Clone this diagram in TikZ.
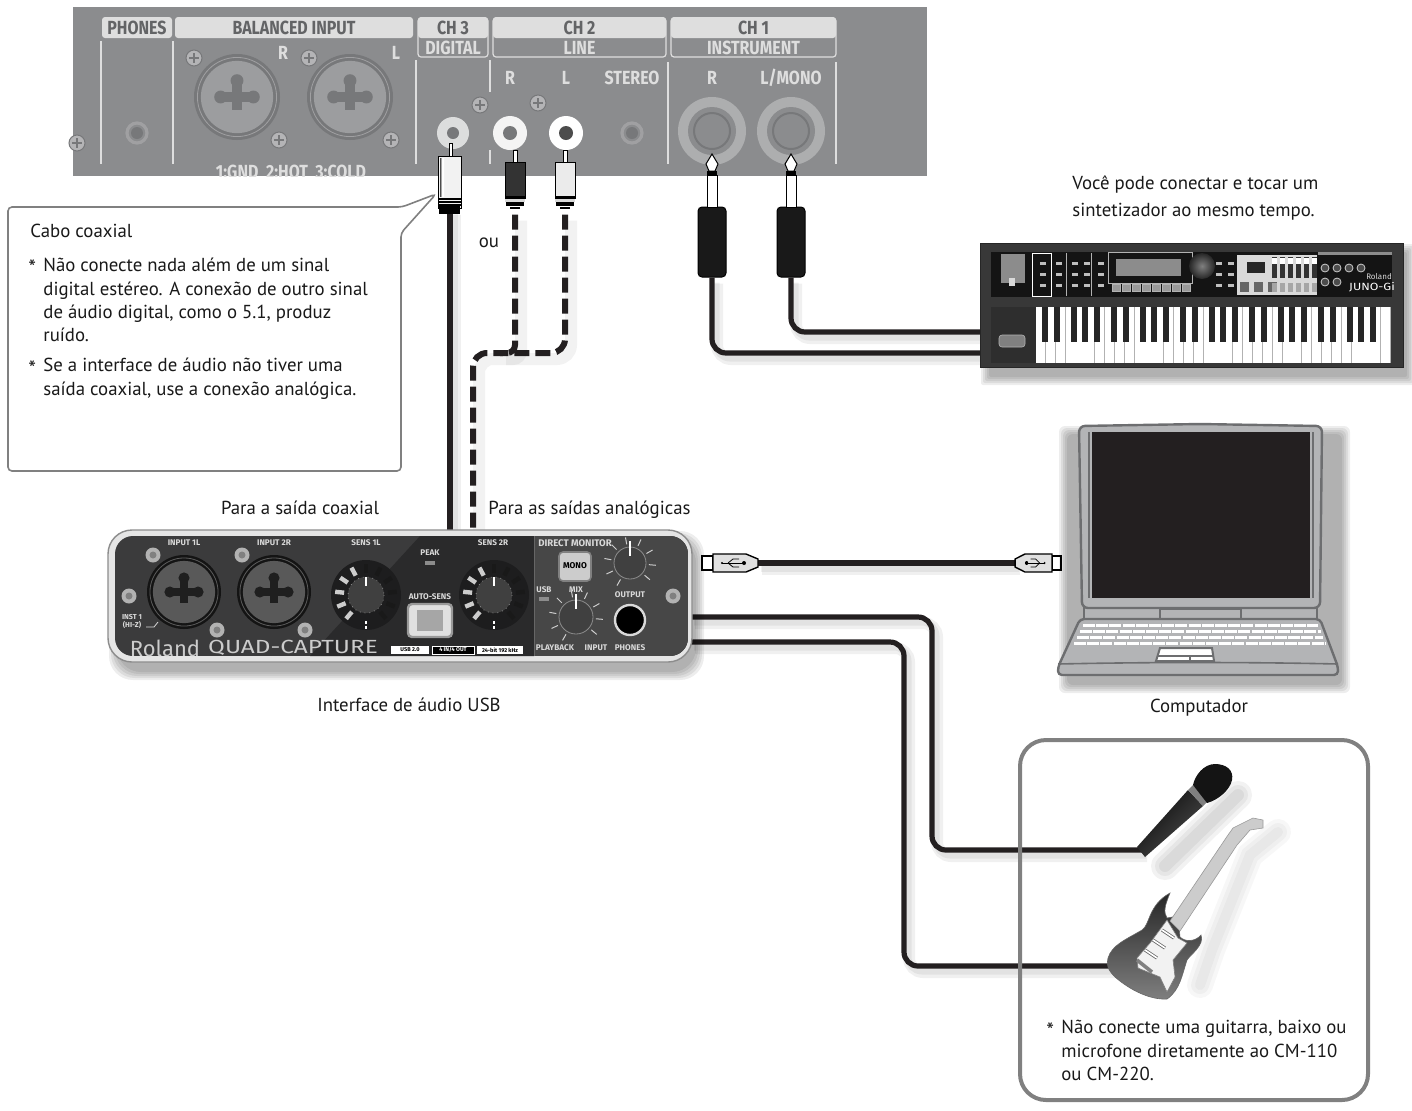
\documentclass[tikz,border=0pt]{standalone}
\usepackage{fontspec}
\setmainfont{PT Sans}
\newfontfamily\panelfont{Fira Sans}
\usetikzlibrary{calc}
\definecolor{panelgray}{HTML}{8B8C8E}
\definecolor{panellight}{HTML}{DEDEDE}
\definecolor{paneltext}{HTML}{636466}
\definecolor{holegray}{HTML}{77787A}
\definecolor{frontdark}{HTML}{2A2A2B}
\definecolor{frontmid}{HTML}{3B3B3C}
\definecolor{lapgray}{HTML}{B3B4B6}
\definecolor{lapline}{HTML}{6D6E70}
\definecolor{cablecol}{HTML}{231F20}
\newcommand{\subpanellabel}[1]{\scalebox{.84}[1]{\panelfont\bfseries #1}}
\newcommand{\frontlabel}[1]{{\panelfont\bfseries #1}}
\tikzset{
  bodytext/.style={inner sep=0pt, align=left, font=\fontsize{9.4}{11.6}\selectfont, text=black!90},
  startext/.style={inner sep=0pt, font=\fontsize{11}{12}\selectfont, text=black!90},
  panelhead/.style={fill=panellight, rounded corners=1.5pt, inner sep=0pt, minimum height=10.5pt, text=paneltext, font=\fontsize{9.5}{10}\selectfont},
  panelsub/.style={draw=panellight, line width=.6pt, rounded corners=1.5pt, inner sep=0pt, minimum height=19.5pt},
  paneltag/.style={inner sep=0pt, text=panellight, font=\fontsize{9.5}{10}\selectfont},
  divider/.style={panellight, line width=.7pt},
  cable/.style={draw=cablecol, line width=2.6pt, rounded corners=7pt,
    preaction={draw=black, opacity=.06, line width=6pt, transform canvas={shift={(2.5pt,-3pt)}}},
    preaction={draw=black, opacity=.06, line width=3.5pt, transform canvas={shift={(2pt,-2.5pt)}}}},
  dashcable/.style={draw=cablecol, line width=3pt, rounded corners=7pt, dash pattern=on 7.5pt off 3pt,
    preaction={draw=black, solid, opacity=.05, line width=6pt, transform canvas={shift={(3pt,-3pt)}}}},
  plugbody/.style={draw=black, line width=.5pt, inner sep=0pt},
  frontlab/.style={inner sep=0pt, text=white!85!black, font=\fontsize{4.1}{4.6}\selectfont},
  knobcap/.style={fill=black!75, draw=black!45, line width=.4pt},
  knobtick/.style={white!80!black, line width=.5pt},
  caplabel/.style={inner sep=0pt, font=\fontsize{9.4}{11.6}\selectfont, text=black!90},
}
% soft shadow under a box
\newcommand{\softshadow}[5]{
  \foreach \s in {0,...,4} {
    \fill[black, opacity=.07, rounded corners=#5] ($(#1,#2)+(9-2*\s,9-2*\s)$) rectangle ($(#3,#4)+(4+2*\s,10+2*\s)$);
  }
}
% combo jack: x, y, radius, ring colour, hole colour, face colour
\newcommand{\combojack}[6]{
  \colorlet{ringbase}{#4}
  \fill[ringbase] (#1,#2) circle (#3);
  \fill[#6] (#1,#2) circle (0.84*#3);
  \draw[ringbase!70!white, line width=.4pt] (#1,#2) circle (0.92*#3);
  \fill[#5] ($(#1,#2)+(-0.38*#3,-0.12*#3)$) rectangle ($(#1,#2)+(0.38*#3,0.12*#3)$);
  \fill[#5] ($(#1,#2)+(-0.12*#3,-0.38*#3)$) rectangle ($(#1,#2)+(0.12*#3,0.3*#3)$);
  \fill[#5] ($(#1,#2)+(0,-0.38*#3)$) circle (0.15*#3);
  \fill[#5] ($(#1,#2)+(-0.38*#3,0)$) circle (0.15*#3);
  \fill[#5] ($(#1,#2)+(0.38*#3,0)$) circle (0.15*#3);
}
% knob with ticks: x, y, radius
\newcommand{\dialknob}[3]{
  \foreach \a in {-240,-205,...,60} {
    \draw[knobtick] ($(#1,#2)+(\a:#3+3)$) -- ($(#1,#2)+(\a:#3+10)$);
  }
  \draw[knobcap] (#1,#2) circle (#3);
  \draw[white, line width=.8pt] ($(#1,#2)+(0,-#3-6)$) -- ($(#1,#2)+(0,-#3+9)$);
}
% level ring and knob: x, y
\newcommand{\sensknob}[2]{
  \fill[frontdark!70!black] (#1,#2) circle (35);
  \foreach \a in {-90,-62,...,70} {
    \draw[black!90, line width=2.2pt] ($(#1,#2)+(\a:22)$) -- ($(#1,#2)+(\a:31)$);
  }
  \foreach \a in {-118,-146,...,-236} {
    \draw[white!80!black, line width=2.2pt] ($(#1,#2)+(\a:22)$) -- ($(#1,#2)+(\a:31)$);
  }
  \draw[knobcap, dotted] (#1,#2) circle (18);
  \fill[black!75] (#1,#2) circle (17);
  \draw[white, line width=.8pt] ($(#1,#2)+(0,-18)$) -- ($(#1,#2)+(0,-9)$);
  \fill[white] (#1-1,#2+26) rectangle (#1+1,#2+29);
  \fill[white] (#1-1,#2+31) rectangle (#1+1,#2+34);
}
% usb plug: x of the socket end, y, direction
\newcommand{\usbplug}[3]{
  \begin{scope}[shift={(#1,#2)}, xscale=#3]
    \draw[fill=white, line width=.7pt] (0,-7) rectangle (11,7);
    \draw[fill=white!88!black, line width=.7pt] (11,-9) -- (44,-9) -- (56,-4) -- (56,4) -- (44,9) -- (11,9) -- cycle;
    \draw[line width=.5pt] (20,0) -- (42,0);
    \fill (42,0) circle (2);
    \draw[line width=.4pt] (26,0) -- (31,-4) -- (37,-4);
    \draw[line width=.4pt] (26,0) -- (31,4) -- (37,4);
    \fill (20,0) circle (1.2);
  \end{scope}
}
\begin{document}
\begin{tikzpicture}[x=0.5pt, y=-0.5pt]
  \useasboundingbox (0,0) rectangle (1412,1110);

  % rear panel
  \fill[panelgray] (73,7) rectangle (927,176);
  \foreach \name/\x/\w/\txt in {digitalsub/453/35/DIGITAL, linesub/579.5/86.5/LINE, instsub/753.5/82.5/INSTRUMENT} {
    \node[panelsub, minimum width=\w pt] (\name) at (\x,37.5) {};
    \node[paneltag] (\name text) at (\x,48) {\subpanellabel{\txt}};
  }
  \foreach \name/\x/\w/\txt in {phones/137/35/PHONES, balanced/294/119/BALANCED INPUT, chthree/453/35/CH 3, chtwo/579.5/86.5/CH 2, chone/753.5/82.5/CH 1} {
    \node[panelhead, minimum width=\w pt] (\name) at (\x,27.5) {\subpanellabel{\txt}};
  }
  \foreach \x in {101,173,668,836} {
    \draw[divider] (\x,62) -- (\x,164);
  }
  \draw[divider] (101,41) -- (101,62);
  \draw[divider] (173,41) -- (173,62);
  \draw[divider] (416,60) -- (416,164);
  \draw[divider] (490,60) -- (490,92);
  \draw[divider] (490,150) -- (490,164);
  \combojack{237}{97}{43}{holegray}{holegray}{panelgray!85!white}
  \combojack{350}{97}{43}{holegray}{holegray}{panelgray!85!white}
  \foreach \x/\y in {194/58, 279/140, 309/58, 391/140, 480/105, 538/103, 77/143} {
    \draw[fill=panelgray!65!white, draw=holegray, line width=.5pt] (\x,\y) circle (8);
    \draw[holegray, line width=1pt] (\x-5,\y) -- (\x+5,\y);
    \draw[holegray, line width=1pt] (\x,\y-5) -- (\x,\y+5);
  }
  \foreach \x in {137,632} {
    \draw[holegray!70!white, line width=1.6pt, fill=panelgray] (\x,133) circle (10);
    \fill[holegray] (\x,133) circle (6);
  }
  \fill[white!70!panelgray] (453,133) circle (16);
  \fill[white!90!panelgray] (510,133) circle (17);
  \fill[white] (566,133) circle (17);
  \fill[holegray] (453,133) circle (6);
  \fill[holegray] (510,133) circle (7);
  \fill[black!70] (566,133) circle (7);
  \foreach \x in {712,791} {
    \fill[holegray!60!white] (\x,131) circle (34);
    \fill[panelgray] (\x,131) circle (24);
    \draw[holegray, line width=1pt] (\x,131) circle (18);
  }
  \foreach \name/\x/\y/\txt in {tagR/283/53/R, tagL/396/53/L, lineR/510/78/R, lineL/566/78/L, lineS/632/78/STEREO, instR/712/78/R, instL/791/78/{L/MONO}} {
    \node[paneltag] (\name) at (\x,\y) {\subpanellabel{\txt}};
  }
  \begin{scope}
    \clip (73,7) rectangle (927,176);
    \node[paneltag] (pinout) at (291,172) {\subpanellabel{1:GND\ \ 2:HOT\ \ 3:COLD}};
  \end{scope}

  % callout
  \draw[fill=white, draw=black!50, line width=.8pt, rounded corners=2pt] (8,207) -- (402,207) -- (436,194) -- (401,233) -- (401,471) -- (8,471) -- cycle;
  \node[bodytext, anchor=west] (calltitle) at (30,231) {Cabo coaxial};
  \node[startext, anchor=north west] (starone) at (28,259) {*};
  \node[bodytext, anchor=north west] (noteone) at (43,258) {Não conecte nada além de um sinal\\digital estéreo. A conexão de outro sinal\\de áudio digital, como o 5.1, produz\\ruído.};
  \node[startext, anchor=north west] (startwo) at (28,360) {*};
  \node[bodytext, anchor=north west] (notetwo) at (43,358) {Se a interface de áudio não tiver uma\\saída coaxial, use a conexão analógica.};

  % named cable ends
  \coordinate (coaxport) at (450,531);
  \coordinate (lineport) at (473,531);
  \coordinate (joint) at (500,353);
  \coordinate (keybupper) at (982,332);
  \coordinate (keyblower) at (982,353);
  \coordinate (usbleft) at (757,563);
  \coordinate (usbright) at (1015,563);
  \coordinate (outmic) at (690,617);
  \coordinate (outguitar) at (690,642);
  \coordinate (micin) at (1142,850);
  \coordinate (guitarin) at (1112,966);
  \coordinate (elbowmic) at (932,700);
  \coordinate (elbowguitar) at (904,800);

  % plugs
  \node[plugbody, fill=black!80, minimum width=10pt, minimum height=18pt] (rcaR) at (515,180) {};
  \node[plugbody, fill=white!92!black, minimum width=10pt, minimum height=18pt] (rcaL) at (565,180) {};
  \node[plugbody, fill=white!95!black, minimum width=11.5pt, minimum height=26pt] (coaxplug) at (450,182) {};
  \node[plugbody, fill=black!90, rounded corners=2pt, minimum width=14pt, minimum height=35pt] (trsR) at (712,242) {};
  \node[plugbody, fill=black!90, rounded corners=2pt, minimum width=14pt, minimum height=35pt] (trsL) at (791,242) {};

  % cables
  \draw[cable, rounded corners=0pt] (coaxplug.south) -- (coaxport);
  \draw[dashcable] (rcaL.south) ++(0,16) -- (rcaL.south |- joint) -- (lineport |- joint) -- (lineport);
  \draw[dashcable, rounded corners=4pt] (rcaR.south) ++(0,16) -- (rcaR.south |- joint) -- (joint);
  \draw[cable] (trsR.south) |- (keyblower);
  \draw[cable] (trsL.south) |- (keybupper);
  \draw[cable, rounded corners=0pt] (usbleft) -- (usbright);
  \draw[cable] (outmic) -| (elbowmic) |- (micin);
  \draw[cable] (outguitar) -| (elbowguitar) |- (guitarin);

  % plug details
  \foreach \x in {515,565} {
    \draw[fill=white, line width=.4pt] (\x-2,150) rectangle (\x+2,162);
    \fill[black] (\x-10,196) rectangle (\x+10,199);
    \fill[white!85!black] (\x-10,199) rectangle (\x+10,202);
    \fill[black] (\x-9,202) rectangle (\x+9,206);
    \fill[black] (\x-5,207) rectangle (\x+5,209);
  }
  \draw[fill=white, line width=.4pt] (449,143) rectangle (452,156);
  \foreach \y in {199,202,205} {
    \draw[black, line width=.6pt] (438,\y) -- (461,\y);
  }
  \fill[black] (439,206) rectangle (460,214);
  \shade[left color=black!70, right color=white, middle color=white] (440,158) rectangle (444,196);
  \foreach \x in {712,791} {
    \draw[fill=white, line width=.5pt] (\x,154) -- (\x+6,164) -- (\x+3,171) -- (\x-3,171) -- (\x-6,164) -- cycle;
    \fill[black] (\x-5,171) rectangle (\x+5,175);
    \draw[fill=white, line width=.5pt] (\x-5,175) rectangle (\x+5,207);
  }

  % synthesizer
  \node[caplabel, anchor=west] (synthA) at (1072,184) {Você pode conectar e tocar um};
  \node[caplabel, anchor=west] (synthB) at (1072,212) {sintetizador ao mesmo tempo.};
  \softshadow{980}{243}{1403}{367}{1pt}
  \node[fill=black!78, draw=black!85, line width=.5pt, minimum width=211.5pt, minimum height=62pt, inner sep=0pt] (junokeyb) at (1191.5,305) {};
  \fill[black!92] (991,252) rectangle (1392,297);
  \fill[black!82] (991,307) rectangle (1036,363);
  \fill[black!45] (1001,254) rectangle (1025,283);
  \fill[white!85!black] (1009,278) rectangle (1015,286);
  \draw[white, line width=.4pt] (1032,253) rectangle (1051,296);
  \draw[white!70!black, line width=.3pt] (1066,253) -- (1066,296);
  \draw[white!70!black, line width=.3pt] (1091,253) -- (1091,296);
  \draw[white!70!black, line width=.4pt] (1108,252) rectangle (1192,283);
  \fill[black!45] (1116,259) rectangle (1181,276);
  \shade[inner color=black!50, outer color=black!85] (1202,266) circle (13);
  \foreach \x in {1112,1122,...,1182} {
    \draw[fill=black!40, draw=white!70!black, line width=.2pt] (\x,284) rectangle (\x+8,291);
  }
  \foreach \x in {1040,1056,1072,1084,1098,1216,1228,1240} {
    \foreach \y in {262,273,284} {
      \fill[white!75!black] (\x,\y) rectangle (\x+6,\y+3);
    }
  }
  \fill[white!85!black] (1237,255) rectangle (1317,295);
  \fill[black!85] (1247,262) rectangle (1265,273);
  \foreach \x in {1240,1254,1268} {
    \fill[black!60] (\x,282) rectangle (\x+9,292);
  }
  \foreach \x in {1272,1280,...,1312} {
    \fill[black!80] (\x,257) rectangle (\x+5,278);
    \fill[white] (\x,258) rectangle (\x+5,264);
    \fill[black!35] (\x,283) rectangle (\x+5,292);
  }
  \fill[white!55!black] (1318,252) rectangle (1392,255);
  \foreach \x/\y in {1325/268, 1337/268, 1349/268, 1361/268, 1325/282, 1337/282} {
    \draw[white!80!black, line width=.4pt, fill=black!70] (\x,\y) circle (4);
  }
  \node[inner sep=0pt, text=white!85!black, font=\fontsize{4}{5}\selectfont] (junobrand) at (1379,277) {\panelfont Roland};
  \node[inner sep=0pt, text=white, font=\fontsize{5.2}{6}\selectfont] (junoname) at (1372,287) {\scalebox{1.2}[1]{\panelfont JUNO-Gi}};
  \draw[fill=black!50, draw=black!30, line width=.3pt, rounded corners=1.5pt] (999,335) rectangle (1025,347);
  \foreach \i in {0,...,35} {
    \fill[white] (1036+9.86*\i,307) rectangle (1036+9.86*\i+9.1,363);
    \fill[black!30] (1036+9.86*\i+9.1,307) rectangle (1036+9.86*\i+9.86,363);
  }
  \foreach \o in {0,...,4} {
    \foreach \k in {0.92,2.1,3.86,4.98,6.17} {
      \fill[black!85] (1036+69*\o+9.86*\k-3.2,307) rectangle (1036+69*\o+9.86*\k+3.2,342);
    }
  }

  % audio interface
  \softshadow{108}{530}{692}{662}{12pt}
  \node[fill=white!90!black, draw=black!45, line width=.7pt, rounded corners=12pt, minimum width=292pt, minimum height=66pt, inner sep=0pt] (quadcapture) at (400,596) {};
  \begin{scope}
    \clip[rounded corners=9pt] (115,536) rectangle (688,656);
    \fill[frontmid] (115,536) rectangle (688,656);
    \fill[frontdark] (420,536) -- (534,536) -- (534,656) -- (310,656) -- cycle;
    \fill[black!72] (534,536) rectangle (688,656);
    \fill[black!60] (534,536) rectangle (535,656);
  \end{scope}
  \combojack{184}{592}{37}{black!92}{black!88}{black!65}
  \combojack{274}{592}{37}{black!92}{black!88}{black!65}
  \foreach \x/\y in {153/555, 217/630, 242/555, 305/630, 129/596, 673/596} {
    \fill[white!70!black] (\x,\y) circle (7.5);
    \fill[black!50] (\x,\y) circle (3.5);
  }
  \sensknob{366}{595}
  \sensknob{494}{595}
  \dialknob{630}{563}{16}
  \dialknob{576}{617}{17}
  \draw[fill=black, draw=white!85!black, line width=1.2pt] (630,620) circle (15);
  \draw[fill=white!80!black, draw=black!50, line width=.8pt, rounded corners=2pt] (559,552) rectangle (591,581);
  \draw[fill=white!88!black, draw=white!60!black, line width=1.2pt, rounded corners=2pt] (408,604) rectangle (452,637);
  \fill[white!65!black] (417,610) rectangle (443,631);
  \fill[white!55!black] (425,561) rectangle (435,565);
  \fill[white!55!black] (539,597) rectangle (549,601);
  \node[inner sep=0pt, font=\fontsize{4.2}{5}\selectfont] (monolabel) at (575,566) {\frontlabel{MONO}};
  \foreach \name/\x/\y/\txt in {inputone/184/543/INPUT 1L, inputtwo/274/543/INPUT 2R, sensone/366/543/SENS 1L, peak/430/553/PEAK, senstwo/493/543/SENS 2R, usbtag/544/590/USB, mixtag/576/590/MIX, outtag/630/595/OUTPUT, autosens/430/597/AUTO-SENS, playback/555/648/PLAYBACK, inputtag/596/648/INPUT, phonestag/630/648/PHONES} {
    \node[frontlab] (\name) at (\x,\y) {\frontlabel{\txt}};
  }
  \node[frontlab, font=\fontsize{4.8}{5}\selectfont] (direct) at (575,543) {\frontlabel{DIRECT MONITOR}};
  \node[frontlab, align=center, font=\fontsize{3.6}{4}\selectfont] (inst) at (132,621) {\frontlabel{INST 1}\\\frontlabel{(HI-Z)}};
  \draw[white!85!black, line width=.4pt] (146,627) -- (154,627) -- (158,622);
  \node[inner sep=0pt, text=white!80!black, font=\fontsize{11}{12}\selectfont] (roland) at (165,648) {\panelfont Roland};
  \node[inner sep=0pt, text=white!80!black, font=\fontsize{9.5}{11}\selectfont] (quadname) at (293,648) {\scalebox{1.28}[1]{\panelfont\mdseries QUAD-CAPTURE}};
  \node[fill=white, inner sep=0pt, minimum width=19pt, minimum height=4pt, text=black, font=\fontsize{2.8}{3}\selectfont] (stripA) at (410,650) {\frontlabel{USB 2.0}};
  \node[fill=black, draw=white, line width=.2pt, inner sep=0pt, minimum width=21pt, minimum height=4pt, text=white, font=\fontsize{2.8}{3}\selectfont] (stripB) at (453,650) {\frontlabel{4 IN/4 OUT}};
  \node[fill=white, inner sep=0pt, minimum width=23pt, minimum height=4pt, text=black, font=\fontsize{2.8}{3}\selectfont] (stripC) at (500,650) {\frontlabel{24-bit\ 192 kHz}};

  % usb plugs
  \usbplug{702}{563}{1}
  \usbplug{1061}{563}{-0.82}

  % captions
  \node[caplabel, anchor=base] (coaxtag) at (300,514) {Para a saída coaxial};
  \node[caplabel, anchor=base] (anatag) at (589.5,514) {Para as saídas analógicas};
  \node[caplabel] (ou) at (489,243) {ou};
  \node[caplabel] (ifacetag) at (409,705) {Interface de áudio USB};
  \node[caplabel] (comptag) at (1199,708) {Computador};

  % laptop
  \softshadow{1058}{425}{1338}{675}{3pt}
  \draw[fill=lapgray, draw=lapline, line width=1pt] (1084,606) rectangle (1317,619);
  \draw[fill=lapgray, draw=lapline, line width=.8pt] (1160,609) rectangle (1241,619);
  \draw[fill=lapgray, draw=lapline, line width=1.2pt, rounded corners=3pt] (1079,426) -- (1200,424) -- (1322,426) -- (1320,608) -- (1082,608) -- cycle;
  \fill[cablecol] (1092,432) rectangle (1310,598);
  \draw[lapline, line width=.6pt] (1089,432) -- (1089,598);
  \draw[lapline, line width=.6pt] (1313,432) -- (1313,598);
  \draw[fill=lapgray, draw=lapline, line width=1.2pt, rounded corners=2pt] (1080,619) -- (1320,619) -- (1338,667) -- (1338,675) -- (1058,675) -- (1058,667) -- cycle;
  \draw[lapline, line width=.8pt] (1058,664) .. controls (1150,662) and (1250,662) .. (1338,664);
  \foreach \y/\a/\b in {625.5/1083/1318, 631.5/1080/1321, 637.5/1077/1323, 643.5/1074/1325} {
    \draw[white, line width=1.7pt, dash pattern=on 6pt off .6pt] (\a,\y) -- (\b,\y);
  }
  \draw[fill=white, draw=lapline, line width=1pt] (1160,648) -- (1212,648) -- (1214,661) -- (1156,661) -- cycle;
  \draw[lapline, line width=.8pt] (1158,656) -- (1213,656);
  \draw[lapline, line width=.8pt] (1190,656) -- (1190,661);

  % input box
  \draw[draw=black!50, line width=2pt, rounded corners=13pt] (1020,740) rectangle (1368,1100);
  \node[startext, anchor=north west] (starthree) at (1046,1022) {*};
  \node[bodytext, anchor=north west] (notethree) at (1061,1020) {Não conecte uma guitarra, baixo ou\\microfone diretamente ao CM-110\\ou CM-220.};

  % microphone
  \foreach \w in {6,10,14} {
    \draw[black, opacity=.05, line width=\w pt, line cap=round] (1165,866) -- (1238,795);
  }
  \shade[top color=black!95, bottom color=black!70, shading angle=45] (1137,847) -- (1188,790) -- (1203,806) -- (1145,857) -- cycle;
  \fill[black!50] (1188,790) -- (1193,785) -- (1208,801) -- (1203,806) -- cycle;
  \fill[black!92] (1193,785) .. controls (1195,775) and (1204,764) .. (1215,764) .. controls (1226,764) and (1234,770) .. (1232,780) .. controls (1230,790) and (1218,800) .. (1207,803) -- cycle;

  % guitar
  \foreach \w in {5,9,13} {
    \draw[black, opacity=.03, line width=\w pt, line cap=round] (1200,985) -- (1212,950) -- (1250,855) -- (1278,832);
  }
  \shade[top color=black!85, bottom color=black!50, draw=black!60, line width=.3pt] (1108,958) .. controls (1112,945) and (1125,940) .. (1142,930) .. controls (1150,925) and (1148,905) .. (1170,893) .. controls (1165,905) and (1163,912) .. (1167,918) -- (1178,916) -- (1180,937) .. controls (1185,942) and (1195,942) .. (1201,935) .. controls (1205,945) and (1190,955) .. (1187,960) .. controls (1182,975) and (1180,990) .. (1167,999) .. controls (1150,1000) and (1130,990) .. (1115,977) .. controls (1108,970) and (1106,965) .. (1108,958) -- cycle;
  \draw[fill=white!80!black, draw=black!40, line width=.3pt] (1170,921) -- (1228,835) -- (1233,828) -- (1253,818) -- (1263,820) -- (1263,828) -- (1250,830) -- (1237,845) -- (1180,931) -- cycle;
  \draw[fill=white!95!black, draw=black!50, line width=.3pt] (1167,920) -- (1178,938) -- (1187,943) -- (1173,960) -- (1175,977) -- (1167,992) -- (1160,977) -- (1138,968) -- (1137,958) -- (1150,943) -- cycle;
  \foreach \x/\y in {1167/935, 1158/945, 1150/955} {
    \draw[black!60, line width=1.6pt] (\x-5,\y-5) -- (\x+7,\y+3);
    \draw[white, line width=.8pt] (\x-5,\y-5) -- (\x+7,\y+3);
  }
  \draw[black!50, line width=1.8pt] (1137,960) -- (1152,972);
\end{tikzpicture}
\end{document}
